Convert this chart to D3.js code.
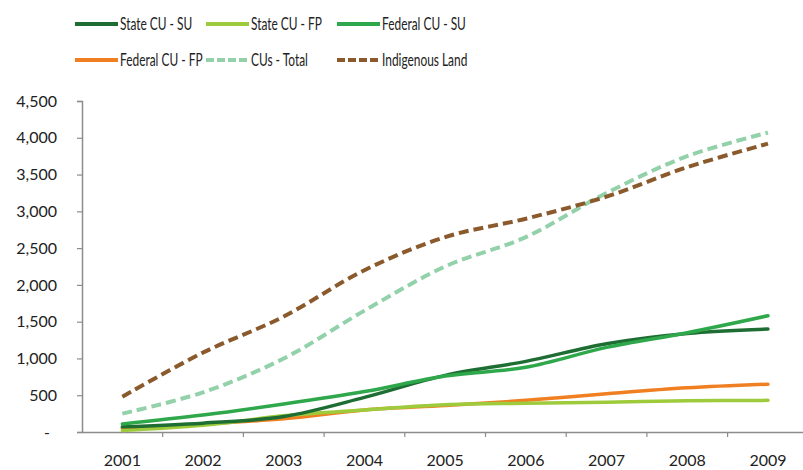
<!DOCTYPE html>
<html>
<head>
<meta charset="utf-8">
<script src="https://cdn.jsdelivr.net/npm/d3@7"></script>
<style>
  html, body { margin: 0; padding: 0; background: #ffffff; }
  svg { display: block; }
</style>
</head>
<body>
<svg id="chart" width="803" height="470"></svg>
<script>
const years = ["2001","2002","2003","2004","2005","2006","2007","2008","2009"];
const yTicks = [0, 500, 1000, 1500, 2000, 2500, 3000, 3500, 4000, 4500];

const stateSU     = [70, 120, 210, 470, 770, 960, 1200, 1340, 1400];
const stateFP     = [20, 90, 220, 300, 370, 390, 405, 425, 430];
const federalSU   = [110, 230, 380, 550, 760, 880, 1150, 1350, 1580];
const federalFP   = [50, 110, 180, 300, 360, 430, 520, 600, 650];
const cusTotal    = [250, 540, 1000, 1650, 2250, 2650, 3250, 3750, 4070];
const indigenous  = [480, 1080, 1570, 2200, 2650, 2900, 3200, 3600, 3920];

const seriesNames = ["State CU - SU", "State CU - FP", "Federal CU - SU", "Federal CU - FP", "CUs - Total", "Indigenous Land"];
const seriesColors = ["#1e6e34", "#9dcb3b", "#2ea84b", "#f07f22", "#92d1a9", "#8a5a2c"];
const seriesDash = [null, null, null, null, "10,5", "10,5"];
const seriesValues = [stateSU, stateFP, federalSU, federalFP, cusTotal, indigenous];

const svg = d3.select("#chart");
const font = "Lato, 'Open Sans', sans-serif";

const x0 = 82, y0 = 432, yTop = 101;
const x = d3.scaleBand().domain(years).range([x0, x0 + 9 * 80.7]).padding(0);
const y = d3.scaleLinear().domain([0, 4500]).range([y0, yTop]);

// Y axis
const yAxis = d3.axisLeft(y).tickValues(yTicks).tickSize(5)
  .tickFormat(d => d === 0 ? "-" : d3.format(",")(d));
const gy = svg.append("g").attr("transform", `translate(${x0},0)`).call(yAxis);
gy.select(".domain").attr("stroke", "#8c8c8c").attr("stroke-width", 1.5);
gy.selectAll(".tick line").attr("stroke", "#8c8c8c").attr("stroke-width", 1.2);
gy.selectAll(".tick text").attr("x", d => d === 0 ? -32 : -25).attr("font-family", font)
  .attr("font-size", 16).attr("fill", "#222");

// X axis
const xAxis = d3.axisBottom(x).tickSize(0).tickSizeOuter(0);
const gx = svg.append("g").attr("transform", `translate(0,${y0})`).call(xAxis);
gx.select(".domain").attr("stroke", "#8c8c8c").attr("stroke-width", 1.5);
gx.selectAll(".tick text").attr("y", 23).attr("dy", "0.71em").attr("font-family", font)
  .attr("font-size", 16).attr("fill", "#222");
// boundary ticks between categories
svg.append("g").selectAll("line").data(years.slice(1)).join("line")
  .attr("x1", d => x(d)).attr("x2", d => x(d))
  .attr("y1", y0).attr("y2", y0 + 5)
  .attr("stroke", "#8c8c8c").attr("stroke-width", 1.2);

// Lines
const line = d3.line()
  .x((d, i) => x(years[i]) + x.bandwidth() / 2)
  .y(d => y(d))
  .curve(d3.curveCatmullRom.alpha(0.5));

const drawOrder = [4, 5, 3, 1, 0, 2];
drawOrder.forEach(k => {
  svg.append("path")
    .attr("d", line(seriesValues[k]))
    .attr("fill", "none")
    .attr("stroke", seriesColors[k])
    .attr("stroke-width", k >= 4 ? 4 : 3.5)
    .attr("stroke-dasharray", seriesDash[k])
    .attr("stroke-linecap", k >= 4 ? "butt" : "round");
});

// Legend
const legX = [75, 206, 337];
const legY = [24, 60];
seriesNames.forEach((name, i) => {
  const col = i % 3, row = Math.floor(i / 3);
  const g = svg.append("g").attr("transform", `translate(${legX[col]},${legY[row]})`);
  g.append("line").attr("x1", 0).attr("x2", 43).attr("y1", 0).attr("y2", 0)
    .attr("stroke", seriesColors[i]).attr("stroke-width", 4)
    .attr("stroke-dasharray", seriesDash[i] ? "8,3" : null);
  const t = g.append("text").attr("x", 45).attr("y", 0).attr("dy", "0.35em")
    .attr("font-family", font).attr("font-size", 17).attr("fill", "#222").text(name);
  const len = t.node().getComputedTextLength();
  t.attr("textLength", len * 0.7).attr("lengthAdjust", "spacingAndGlyphs");
});
</script>
</body>
</html>
